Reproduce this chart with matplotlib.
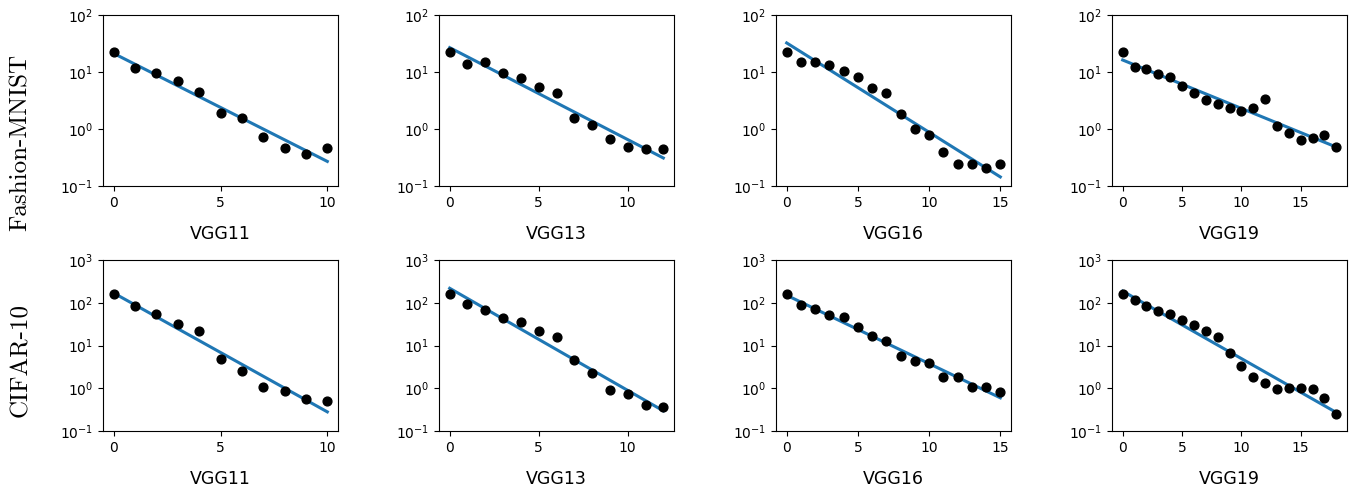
import numpy as np
import matplotlib
matplotlib.use("Agg")
import matplotlib.pyplot as plt
from matplotlib.ticker import NullLocator, LogLocator, MultipleLocator

models = ["VGG11", "VGG13", "VGG16", "VGG19"]
datasets = ["Fashion-MNIST", "CIFAR-10"]

fm_vgg11 = [22.7, 11.9, 9.5, 7.05, 4.52, 1.93, 1.58, 0.73, 0.47, 0.37, 0.46]
fm_vgg13 = [22.4, 14.0, 14.8, 9.7, 7.96, 5.38, 4.22, 1.56, 1.19, 0.66, 0.49, 0.44, 0.44]
fm_vgg16 = [22.4, 14.8, 15.2, 13.1, 10.5, 8.28, 5.31, 4.34, 1.86, 1.0, 0.80, 0.39,
            0.24, 0.243, 0.204, 0.247]
fm_vgg19 = [22.4, 12.2, 11.3, 9.2, 8.2, 5.75, 4.22, 3.23, 2.75, 2.33, 2.10, 2.31,
            3.31, 1.11, 0.86, 0.63, 0.69, 0.80, 0.49]

c10_vgg11 = [157, 84, 54.6, 32.4, 22.3, 4.92, 2.54, 1.09, 0.85, 0.55, 0.49]
c10_vgg13 = [157, 91.8, 67.7, 44.8, 36.1, 21.8, 15.5, 4.58, 2.32, 0.91, 0.75, 0.41, 0.37]
c10_vgg16 = [160, 87, 72.8, 51.7, 47.3, 27.1, 16.4, 12.7, 5.68, 4.26, 3.83, 1.87,
             1.83, 1.09, 1.05, 0.80]
c10_vgg19 = [157, 114, 84, 64, 53.6, 39.5, 30.7, 21.8, 15.5, 6.56, 3.32, 1.83, 1.35,
             0.96, 1.0, 1.03, 0.96, 0.59, 0.245]

rows = [[fm_vgg11, fm_vgg13, fm_vgg16, fm_vgg19],
        [c10_vgg11, c10_vgg13, c10_vgg16, c10_vgg19]]
ylims = [(0.1, 100), (0.1, 1000)]

W, H = 1354, 495
fig = plt.figure(figsize=(W / 100, H / 100), dpi=100)

lefts = [103, 439, 776, 1112]
tops = [15, 260]
aw, ah = 235, 171

for r in range(2):
    for c in range(4):
        ax = fig.add_axes([lefts[c] / W, 1 - (tops[r] + ah) / H, aw / W, ah / H])
        y = np.array(rows[r][c])
        x = np.arange(len(y))
        ax.scatter(x, y, s=40, color="black", zorder=3)
        k, b = np.polyfit(x, np.log10(y), 1)
        ax.plot(x, 10 ** (k * x + b), color="#1f77b4", lw=2.2, zorder=2)
        ax.set_yscale("log")
        ax.set_ylim(*ylims[r])
        ax.yaxis.set_major_locator(LogLocator(base=10, numticks=10))
        ax.yaxis.set_minor_locator(NullLocator())
        ax.xaxis.set_major_locator(MultipleLocator(5))
        ax.tick_params(labelsize=10)
        ax.set_xlabel(models[c], fontsize=12.5, labelpad=11)

fig.text(21 / W, 1 - 142 / H, datasets[0], rotation=90, ha="center", va="center",
         fontsize=18, family="cmr10")
fig.text(21 / W, 1 - 360 / H, datasets[1], rotation=90, ha="center", va="center",
         fontsize=18, family="cmr10")

fig.savefig("out.png", dpi=100)
